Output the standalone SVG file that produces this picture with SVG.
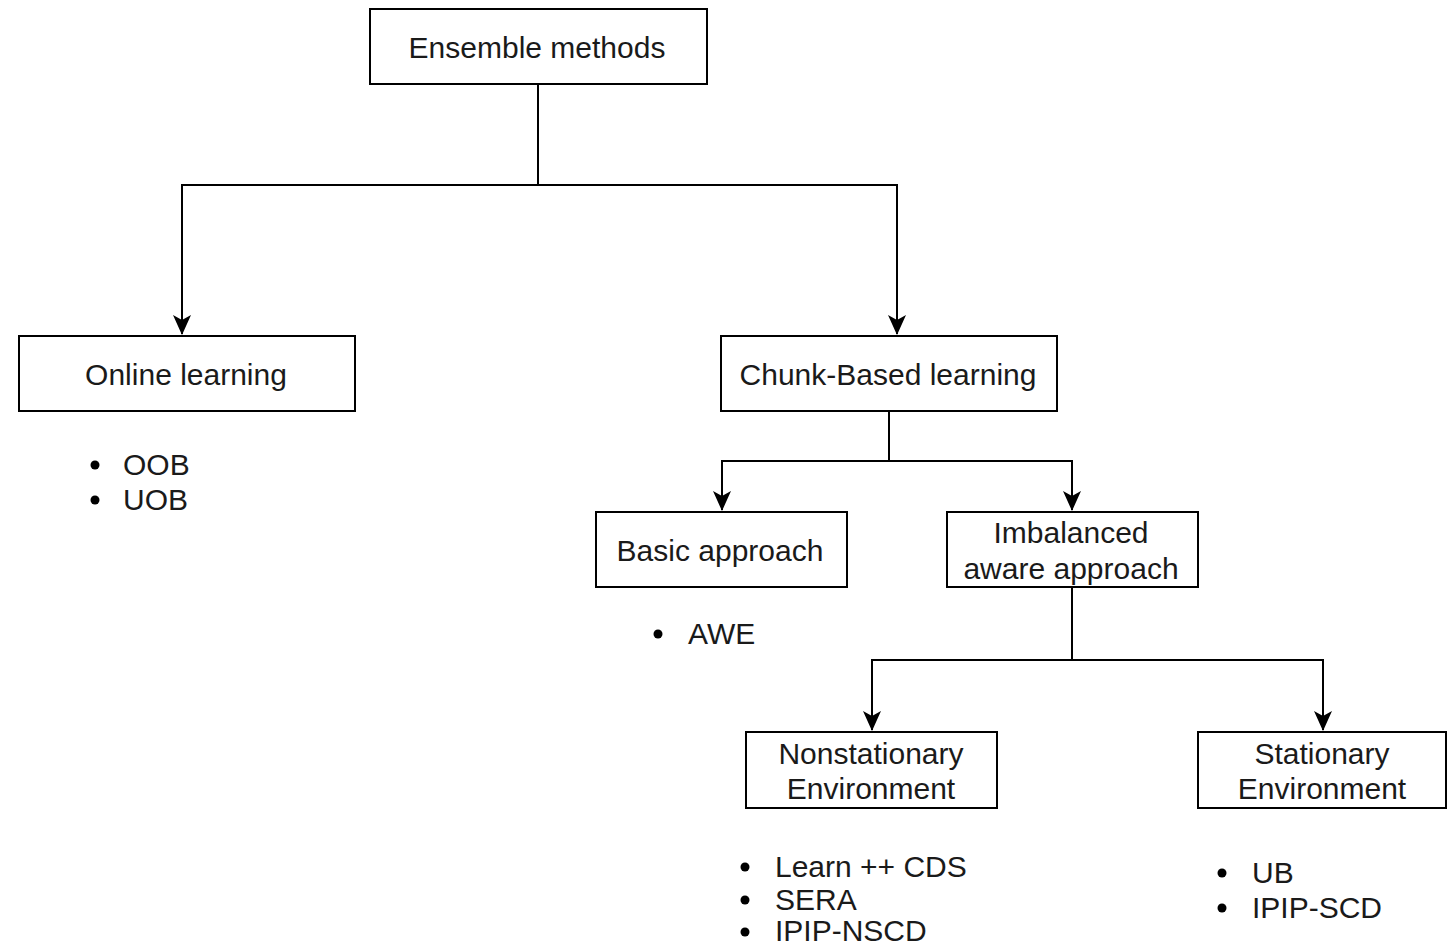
<svg xmlns="http://www.w3.org/2000/svg" width="1447" height="948" viewBox="0 0 1447 948">
<style>
.box{fill:#fff;stroke:#000;stroke-width:2}
.t{font-family:"Liberation Sans",Arial,Helvetica,sans-serif;font-size:30px;fill:#1a1a1a}
.c{text-anchor:middle}
.ln{fill:none;stroke:#000;stroke-width:2}
.dot{fill:#000}
</style>
<defs>
<marker id="ah" markerWidth="20" markerHeight="18" refX="19" refY="9" orient="auto" markerUnits="userSpaceOnUse" viewBox="0 0 20 18">
<path d="M0,0 L20,9 L0,18 L5,9 Z" fill="#000"/>
</marker>
</defs>
<rect width="1447" height="948" fill="#fff"/>
<g id="connectors">
<path class="ln" d="M538,84 V185 H182 V334" marker-end="url(#ah)"/>
<path class="ln" d="M538,185 H897 V334" marker-end="url(#ah)"/>
<path class="ln" d="M889,411 V461 H722 V510" marker-end="url(#ah)"/>
<path class="ln" d="M889,461 H1072 V510" marker-end="url(#ah)"/>
<path class="ln" d="M1072,587 V660 H872 V730" marker-end="url(#ah)"/>
<path class="ln" d="M1072,660 H1323 V730" marker-end="url(#ah)"/>
</g>
<g id="ensemble">
<rect class="box" x="370" y="9" width="337" height="75"/>
<text class="t c" x="537" y="58">Ensemble methods</text>
</g>
<g id="online">
<rect class="box" x="19" y="336" width="336" height="75"/>
<text class="t c" x="186" y="385">Online learning</text>
</g>
<g id="online-list">
<circle class="dot" cx="95" cy="465" r="4.5"/>
<text class="t" x="123" y="475">OOB</text>
<circle class="dot" cx="95" cy="500" r="4.5"/>
<text class="t" x="123" y="510">UOB</text>
</g>
<g id="chunk">
<rect class="box" x="721" y="336" width="336" height="75"/>
<text class="t c" x="888" y="385">Chunk-Based learning</text>
</g>
<g id="basic">
<rect class="box" x="596" y="512" width="251" height="75"/>
<text class="t c" x="720" y="561">Basic approach</text>
</g>
<g id="basic-list">
<circle class="dot" cx="658" cy="634" r="4.5"/>
<text class="t" x="688" y="644">AWE</text>
</g>
<g id="imbalanced">
<rect class="box" x="947" y="512" width="251" height="75"/>
<text class="t c" x="1071" y="543">Imbalanced</text>
<text class="t c" x="1071" y="579">aware approach</text>
</g>
<g id="nonstationary">
<rect class="box" x="746" y="732" width="251" height="76"/>
<text class="t c" x="871" y="764">Nonstationary</text>
<text class="t c" x="871" y="799">Environment</text>
</g>
<g id="nonstationary-list">
<circle class="dot" cx="745" cy="867" r="4.5"/>
<text class="t" x="775" y="877">Learn ++ CDS</text>
<circle class="dot" cx="745" cy="900" r="4.5"/>
<text class="t" x="775" y="910">SERA</text>
<circle class="dot" cx="745" cy="932" r="4.5"/>
<text class="t" x="775" y="941">IPIP-NSCD</text>
</g>
<g id="stationary">
<rect class="box" x="1198" y="732" width="248" height="76"/>
<text class="t c" x="1322" y="764">Stationary</text>
<text class="t c" x="1322" y="799">Environment</text>
</g>
<g id="stationary-list">
<circle class="dot" cx="1222" cy="873" r="4.5"/>
<text class="t" x="1252" y="883">UB</text>
<circle class="dot" cx="1222" cy="908" r="4.5"/>
<text class="t" x="1252" y="918">IPIP-SCD</text>
</g>
</svg>
